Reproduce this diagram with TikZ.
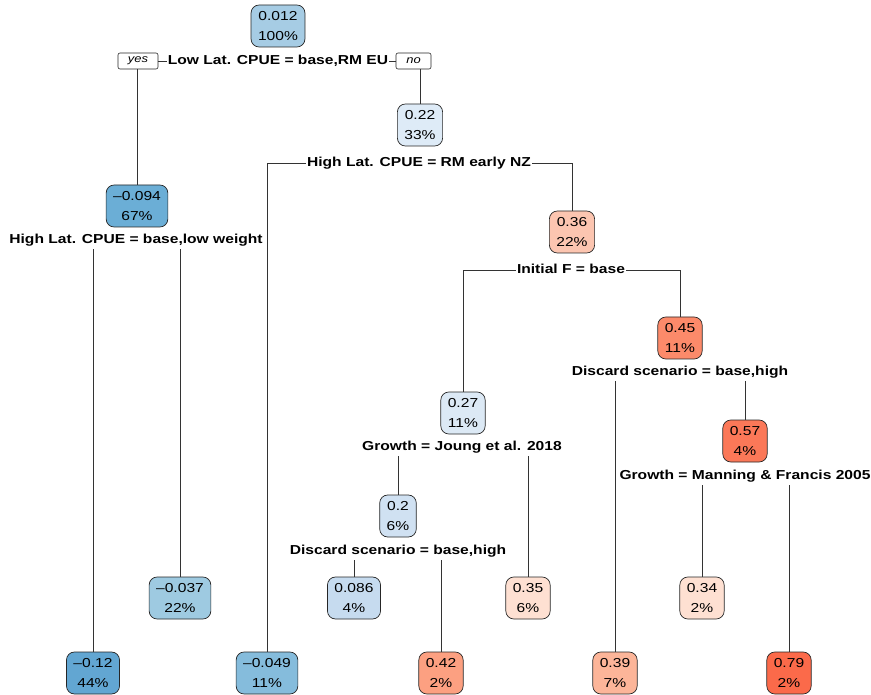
\documentclass[tikz,border=0pt]{standalone}
\usepackage{fontspec}
\setmainfont{Liberation Sans}[FakeStretch=1.2]
\begin{document}
\definecolor{c012}{RGB}{166,204,228}
\definecolor{c094}{RGB}{107,174,214}
\definecolor{c12}{RGB}{98,166,210}
\definecolor{c037}{RGB}{158,202,225}
\definecolor{c049}{RGB}{133,188,220}
\definecolor{c22}{RGB}{222,235,247}
\definecolor{c27}{RGB}{220,233,245}
\definecolor{c2}{RGB}{208,225,242}
\definecolor{c086}{RGB}{198,219,239}
\definecolor{c36}{RGB}{252,197,176}
\definecolor{c45}{RGB}{252,138,106}
\definecolor{c57}{RGB}{251,120,88}
\definecolor{c35}{RGB}{254,224,210}
\definecolor{c34}{RGB}{254,224,210}
\definecolor{c42}{RGB}{252,160,129}
\definecolor{c39}{RGB}{252,181,153}
\definecolor{c79}{RGB}{251,106,74}
\begin{tikzpicture}[x=1pt,y=-1pt,
  leaf/.style={draw=black!85,line width=0.7pt,rounded corners=8pt,align=center,
    inner xsep=7pt,inner ysep=0pt,minimum height=42pt,
    font=\fontsize{13}{20}\selectfont},
  split/.style={font=\fontsize{13}{15}\selectfont\bfseries,inner xsep=1pt,inner ysep=3pt,
    text height=9.3pt,text depth=2.8pt},
  tag/.style={draw=black!85,line width=0.6pt,rounded corners=2pt,fill=white,inner sep=0pt,
    minimum height=16pt,font=\fontsize{10.8}{12}\selectfont\itshape},
  edge/.style={draw=black!80,line width=0.7pt}]
\useasboundingbox (0,0) rectangle (871,695);

% internal nodes
\node[leaf,fill=c012] (root) at (278,26) {0.012\\100\%};
\node[leaf,fill=c094] (n094) at (137,206) {–0.094\\67\%};
\node[leaf,fill=c22]  (n22)  at (420,125) {0.22\\33\%};
\node[leaf,fill=c36]  (n36)  at (572,232) {0.36\\22\%};
\node[leaf,fill=c45]  (n45)  at (680,338) {0.45\\11\%};
\node[leaf,fill=c27]  (n27)  at (463,413) {0.27\\11\%};
\node[leaf,fill=c57]  (n57)  at (745,441) {0.57\\4\%};
\node[leaf,fill=c2]   (n2)   at (398,516) {0.2\\6\%};

% leaves
\node[leaf,fill=c037] (n037) at (180,598) {–0.037\\22\%};
\node[leaf,fill=c086] (n086) at (354,598) {0.086\\4\%};
\node[leaf,fill=c35]  (n35)  at (528,598) {0.35\\6\%};
\node[leaf,fill=c34]  (n34)  at (702,598) {0.34\\2\%};
\node[leaf,fill=c12]  (n12)  at (93,673)  {–0.12\\44\%};
\node[leaf,fill=c049] (n049) at (267,673) {–0.049\\11\%};
\node[leaf,fill=c42]  (n42)  at (441,673) {0.42\\2\%};
\node[leaf,fill=c39]  (n39)  at (615,673) {0.39\\7\%};
\node[leaf,fill=c79]  (n79)  at (789,673) {0.79\\2\%};

% split labels
\node[split] (s1) at (278,61)  {Low Lat. CPUE = base,RM EU};
\node[split] (s2) at (136,240) {High Lat. CPUE = base,low weight};
\node[split] (s3) at (419,163) {High Lat. CPUE = RM early NZ};
\node[split] (s4) at (571,270) {Initial F = base};
\node[split] (s5) at (680,372) {Discard scenario = base,high};
\node[split] (s6) at (462,447) {Growth = Joung et al. 2018};
\node[split] (s7) at (398,551) {Discard scenario = base,high};
\node[split] (s8) at (745,476) {Growth = Manning \& Francis 2005};

% yes / no tags
\node[tag,minimum width=40pt] (yes) at (138,61) {yes};
\node[tag,minimum width=35pt] (no)  at (413.5,61) {no};

% connectors
\draw[edge] (s1.west) -- (yes.east);
\draw[edge] (n094.north |- yes.south) -- (n094.north);
\draw[edge] (s1.east) -- (no.west);
\draw[edge] (n22.north |- no.south) -- (n22.north);

\draw[edge] (n12.north |- s2.south) -- (n12.north);
\draw[edge] (n037.north |- s2.south) -- (n037.north);

\draw[edge] (s3.west) -| (n049.north);
\draw[edge] (s3.east) -| (n36.north);

\draw[edge] (s4.west) -| (n27.north);
\draw[edge] (s4.east) -| (n45.north);

\draw[edge] (n39.north |- s5.south) -- (n39.north);
\draw[edge] (n57.north |- s5.south) -- (n57.north);

\draw[edge] (n2.north |- s6.south) -- (n2.north);
\draw[edge] (n35.north |- s6.south) -- (n35.north);

\draw[edge] (n086.north |- s7.south) -- (n086.north);
\draw[edge] (n42.north |- s7.south) -- (n42.north);

\draw[edge] (n34.north |- s8.south) -- (n34.north);
\draw[edge] (n79.north |- s8.south) -- (n79.north);
\end{tikzpicture}
\end{document}
